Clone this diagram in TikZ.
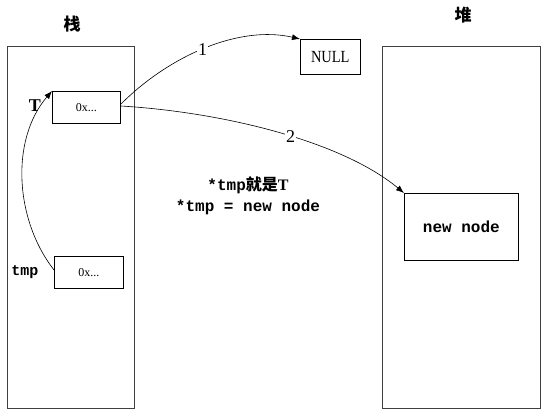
\documentclass[tikz,border=0pt]{standalone}
\usepackage{fontspec}
\setmainfont{Liberation Serif}
\setmonofont{Liberation Mono}
\newfontfamily\cjk{Noto Sans CJK SC}
\usetikzlibrary{arrows.meta}
\begin{document}
\begin{tikzpicture}[x=1pt,y=-1pt,
  region/.style={draw=black!75,line width=0.8pt},
  cell/.style={draw,line width=0.6pt,inner sep=0pt},
  arr/.style={line width=0.6pt,-{Latex[length=8pt,width=6pt]}},
  lbl/.style={fill=white,inner sep=1pt,font=\fontsize{18}{18}\selectfont}]
\useasboundingbox (0,0) rectangle (548,413);
% regions
\node[region,minimum width=127pt,minimum height=362pt,anchor=north west,inner sep=0pt] (stack) at (7,46) {};
\node[region,minimum width=158pt,minimum height=362pt,anchor=north west,inner sep=0pt] (heap) at (382,46) {};
\node[font=\cjk\bfseries\fontsize{17}{17}\selectfont] (stacklbl) at (72,24) {栈};
\node[font=\cjk\bfseries\fontsize{17}{17}\selectfont] (heaplbl) at (463,15) {堆};
% cells
\node[cell,minimum width=68pt,minimum height=32pt,anchor=north west,font=\fontsize{12}{12}\selectfont] (tbox) at (52,91) {0x...};
\node[cell,minimum width=69pt,minimum height=32pt,anchor=north west,font=\fontsize{12}{12}\selectfont] (tmpbox) at (54,256) {0x...};
\node[cell,minimum width=60pt,minimum height=35pt,anchor=north west,font=\fontsize{17}{17}\selectfont] (null) at (300,39) {\scalebox{0.85}[1]{NULL}};
\node[cell,minimum width=114pt,minimum height=67pt,anchor=north west,font=\ttfamily\bfseries\fontsize{16}{16}\selectfont] (newnode) at (404,193) {new node};
% labels
\node[font=\bfseries\fontsize{18}{18}\selectfont] (tlbl) at (35,106) {T};
\node[font=\ttfamily\bfseries\fontsize{15}{15}\selectfont] (tmplbl) at (25,272) {tmp};
\node[font=\fontsize{16}{16}\selectfont] (txt1) at (248,185) {\ttfamily\bfseries *tmp{\cjk\bfseries 就是}{\rmfamily\bfseries T}};
\node[font=\ttfamily\bfseries\fontsize{16}{16}\selectfont] (txt2) at (248,207) {*tmp = new node};
% connectors
\coordinate (t1) at (121,104);
\coordinate (t2) at (121,106);
\coordinate (tmpc) at (54,270);
\draw[arr] (t1) .. controls (170,55) and (240,25) .. node[lbl,pos=0.48] {1} (null.north west);
\draw[arr] (t2) .. controls (220,112) and (340,140) .. node[lbl,pos=0.55] {2} (newnode.north west);
\draw[arr] (tmpc) .. controls (15,220) and (10,140) .. (tbox.north west);
\end{tikzpicture}
\end{document}
